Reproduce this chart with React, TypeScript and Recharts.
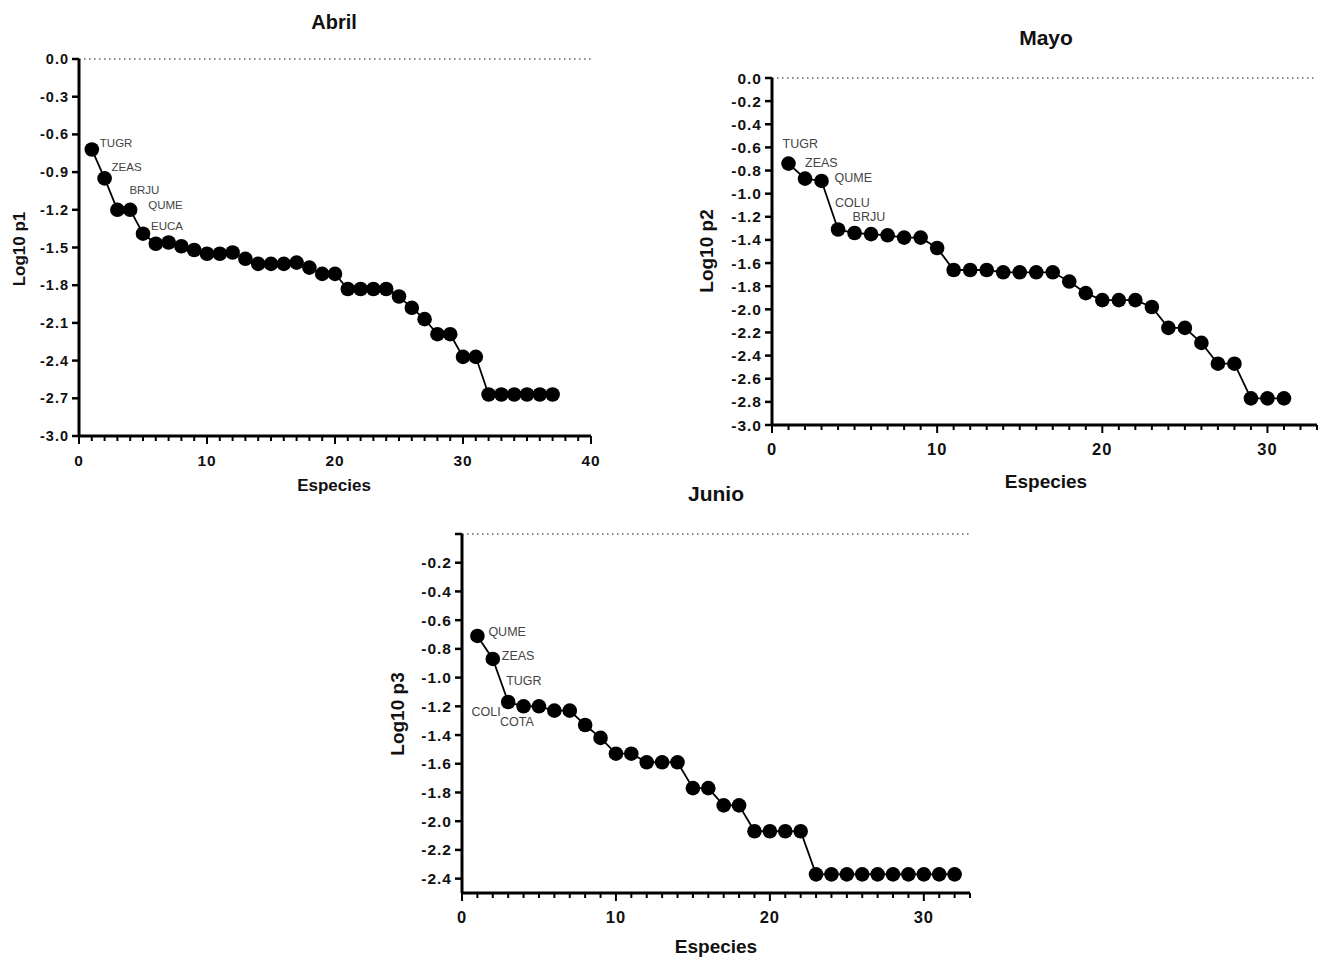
import { LineChart, Line, XAxis, YAxis, ReferenceLine, LabelList } from 'recharts';

// Abril (37 especies)
const abrilValores = [
  -0.72, -0.95, -1.2, -1.2, -1.39, -1.47, -1.46, -1.49, -1.52, -1.55, -1.55, -1.54, -1.59,
  -1.63, -1.63, -1.63, -1.62, -1.66, -1.71, -1.71, -1.83, -1.83, -1.83, -1.83, -1.89, -1.98,
  -2.07, -2.19, -2.19, -2.37, -2.37, -2.67, -2.67, -2.67, -2.67, -2.67, -2.67,
];
const abrilNombres = ['TUGR', 'ZEAS', 'BRJU', 'QUME', 'EUCA'];
const abrilYTicks = [0, -0.3, -0.6, -0.9, -1.2, -1.5, -1.8, -2.1, -2.4, -2.7, -3.0];

// Mayo (31 especies)
const mayoValores = [
  -0.74, -0.87, -0.89, -1.31, -1.34, -1.35, -1.36, -1.38, -1.38, -1.47, -1.66, -1.66, -1.66,
  -1.68, -1.68, -1.68, -1.68, -1.76, -1.86, -1.92, -1.92, -1.92, -1.98, -2.16, -2.16, -2.29,
  -2.47, -2.47, -2.77, -2.77, -2.77,
];
const mayoNombres = ['TUGR', 'ZEAS', 'QUME', 'COLU', 'BRJU'];
const mayoYTicks = [0, -0.2, -0.4, -0.6, -0.8, -1.0, -1.2, -1.4, -1.6, -1.8, -2.0, -2.2, -2.4, -2.6, -2.8, -3.0];

// Junio (32 especies)
const junioValores = [
  -0.71, -0.87, -1.17, -1.2, -1.2, -1.23, -1.23, -1.33, -1.42, -1.53, -1.53, -1.59, -1.59,
  -1.59, -1.77, -1.77, -1.89, -1.89, -2.07, -2.07, -2.07, -2.07, -2.37, -2.37, -2.37, -2.37,
  -2.37, -2.37, -2.37, -2.37, -2.37, -2.37,
];
const junioNombres = ['QUME', 'ZEAS', 'TUGR', 'COLI', 'COTA'];
const junioYTicks = [0, -0.2, -0.4, -0.6, -0.8, -1.0, -1.2, -1.4, -1.6, -1.8, -2.0, -2.2, -2.4];

const xTicks40 = Array.from({ length: 41 }, (_, i) => i);
const xTicks33 = Array.from({ length: 34 }, (_, i) => i);

const FONT = '"Liberation Sans", Arial, Helvetica, sans-serif';

function buildRows(valores: number[], nombres: string[]) {
  return valores.map((v, i) => ({ especie: i + 1, log: v, name: nombres[i] ?? '' }));
}

const YTick = (props: any) => {
  const { x, y, payload, fontSize, hideZero } = props;
  const v = payload.value as number;
  const label = hideZero && v === 0 ? '' : v.toFixed(1);
  return (
    <g>
      <line x1={x - 7} x2={x} y1={y} y2={y} stroke="#000" strokeWidth={2.5} />
      <text
        x={x - 10}
        y={y}
        textAnchor="end"
        dominantBaseline="central"
        fontFamily={FONT}
        fontWeight="bold"
        fontSize={fontSize}
        letterSpacing={1}
        fill="#111"
      >
        {label}
      </text>
    </g>
  );
};

const XTick = (props: any) => {
  const { x, y, payload, fontSize } = props;
  const v = payload.value as number;
  const major = v % 10 === 0;
  return (
    <g>
      <line x1={x} x2={x} y1={y} y2={y + (major ? 8 : 5)} stroke="#000" strokeWidth={2} />
      {major && (
        <text
          x={x}
          y={y + 24}
          textAnchor="middle"
          dominantBaseline="central"
          fontFamily={FONT}
          fontWeight="bold"
          fontSize={fontSize + 1}
          letterSpacing={1}
          fill="#111"
        >
          {v}
        </text>
      )}
    </g>
  );
};

const makeNameLabel = (offsets: number[][], fontSize: number) => (props: any) => {
  const { index, value } = props;
  const vb = props.viewBox || {};
  const px = props.x ?? vb.x;
  const py = props.y ?? vb.y;
  if (!value || px == null) return null;
  const [dx, dy] = offsets[index] ?? [8, -8];
  return (
    <text
      key={`n-${index}`}
      x={px + dx}
      y={py + dy}
      dominantBaseline="central"
      fontFamily={FONT}
      fontSize={fontSize}
      fill="#444"
    >
      {value}
    </text>
  );
};

interface PanelProps {
  title: string;
  yLabel: string;
  valores: number[];
  nombres: string[];
  offsets: number[][];
  yTicks: number[];
  xTicks: number[];
  xMax: number;
  yMin: number;
  plot: { left: number; top: number; right: number; bottom: number };
  titlePos: [number, number];
  xLabelPos: [number, number];
  yLabelPos: [number, number];
  tickFont: number;
  titleFont: number;
  axisFont: number;
  nameFont: number;
  hideZero?: boolean;
}

function Panel(p: PanelProps) {
  const data = buildRows(p.valores, p.nombres);
  const padL = 70;
  const padT = 12;
  const padR = 12;
  const axisH = 40;
  const w = p.plot.right - p.plot.left + padL + padR;
  const h = p.plot.bottom - p.plot.top + padT + axisH;
  const textStyle = {
    position: 'absolute' as const,
    fontFamily: FONT,
    fontWeight: 'bold' as const,
    color: '#111',
    whiteSpace: 'nowrap' as const,
  };
  return (
    <>
      <div
        style={{
          ...textStyle,
          left: p.titlePos[0],
          top: p.titlePos[1],
          transform: 'translate(-50%, -50%)',
          fontSize: p.titleFont,
        }}
      >
        {p.title}
      </div>
      <div
        style={{
          ...textStyle,
          left: p.xLabelPos[0],
          top: p.xLabelPos[1],
          transform: 'translate(-50%, -50%)',
          fontSize: p.axisFont,
        }}
      >
        Especies
      </div>
      <div
        style={{
          ...textStyle,
          left: p.yLabelPos[0],
          top: p.yLabelPos[1],
          transform: 'translate(-50%, -50%) rotate(-90deg)',
          fontSize: p.axisFont,
        }}
      >
        {p.yLabel}
      </div>
      <div style={{ position: 'absolute', left: p.plot.left - padL, top: p.plot.top - padT }}>
        <LineChart
          width={w}
          height={h}
          data={data}
          margin={{ top: padT, right: padR, bottom: 0, left: 0 }}
        >
          <XAxis
            dataKey="especie"
            type="number"
            domain={[0, p.xMax]}
            ticks={p.xTicks}
            interval={0}
            height={axisH}
            tickSize={0}
            tickMargin={0}
            axisLine={{ stroke: '#000', strokeWidth: 3 }}
            tick={<XTick fontSize={p.tickFont} />}
          />
          <YAxis
            type="number"
            domain={[p.yMin, 0]}
            ticks={p.yTicks}
            interval={0}
            width={padL}
            tickSize={0}
            tickMargin={0}
            allowDataOverflow
            axisLine={{ stroke: '#000', strokeWidth: 3 }}
            tick={<YTick fontSize={p.tickFont} hideZero={p.hideZero} />}
          />
          <ReferenceLine y={0} stroke="#666" strokeWidth={1.5} strokeDasharray="1.5 3.5" />
          <Line
            dataKey="log"
            stroke="#000"
            strokeWidth={1.8}
            dot={{ r: 7.3, fill: '#000', stroke: '#000', strokeWidth: 0 }}
            isAnimationActive={false}
          >
            <LabelList dataKey="name" content={makeNameLabel(p.offsets, p.nameFont)} />
          </Line>
        </LineChart>
      </div>
    </>
  );
}

export default function App() {
  return (
    <div style={{ position: 'absolute', left: 0, top: 0, width: 1325, height: 958, background: '#fff' }}>
      <Panel
        title="Abril"
        yLabel="Log10 p1"
        valores={abrilValores}
        nombres={abrilNombres}
        offsets={[[8, -6], [7, -11], [12, -20], [18, -5], [8, -8]]}
        yTicks={abrilYTicks}
        xTicks={xTicks40}
        xMax={40}
        yMin={-3}
        plot={{ left: 79, top: 59, right: 591, bottom: 436 }}
        titlePos={[334, 22]}
        xLabelPos={[334, 486]}
        yLabelPos={[20, 249]}
        tickFont={14.5}
        titleFont={20}
        axisFont={17}
        nameFont={11.5}
      />
      <Panel
        title="Mayo"
        yLabel="Log10 p2"
        valores={mayoValores}
        nombres={mayoNombres}
        offsets={[[-6, -20], [0, -16], [13, -3], [-3, -27], [-2, -16]]}
        yTicks={mayoYTicks}
        xTicks={xTicks33}
        xMax={33}
        yMin={-3}
        plot={{ left: 772, top: 78, right: 1317, bottom: 425 }}
        titlePos={[1046, 38]}
        xLabelPos={[1046, 482]}
        yLabelPos={[707, 251]}
        tickFont={15.5}
        titleFont={21}
        axisFont={19}
        nameFont={12.5}
      />
      <Panel
        title="Junio"
        yLabel="Log10 p3"
        valores={junioValores}
        nombres={junioNombres}
        offsets={[[11, -4], [9, -3], [-2, -21], [-52, 6], [-39, 16]]}
        yTicks={junioYTicks}
        xTicks={xTicks33}
        xMax={33}
        yMin={-2.5}
        plot={{ left: 462, top: 534, right: 970, bottom: 893 }}
        titlePos={[716, 494]}
        xLabelPos={[716, 947]}
        yLabelPos={[398, 714]}
        tickFont={15.5}
        titleFont={21}
        axisFont={19}
        nameFont={12.5}
        hideZero
      />
    </div>
  );
}
